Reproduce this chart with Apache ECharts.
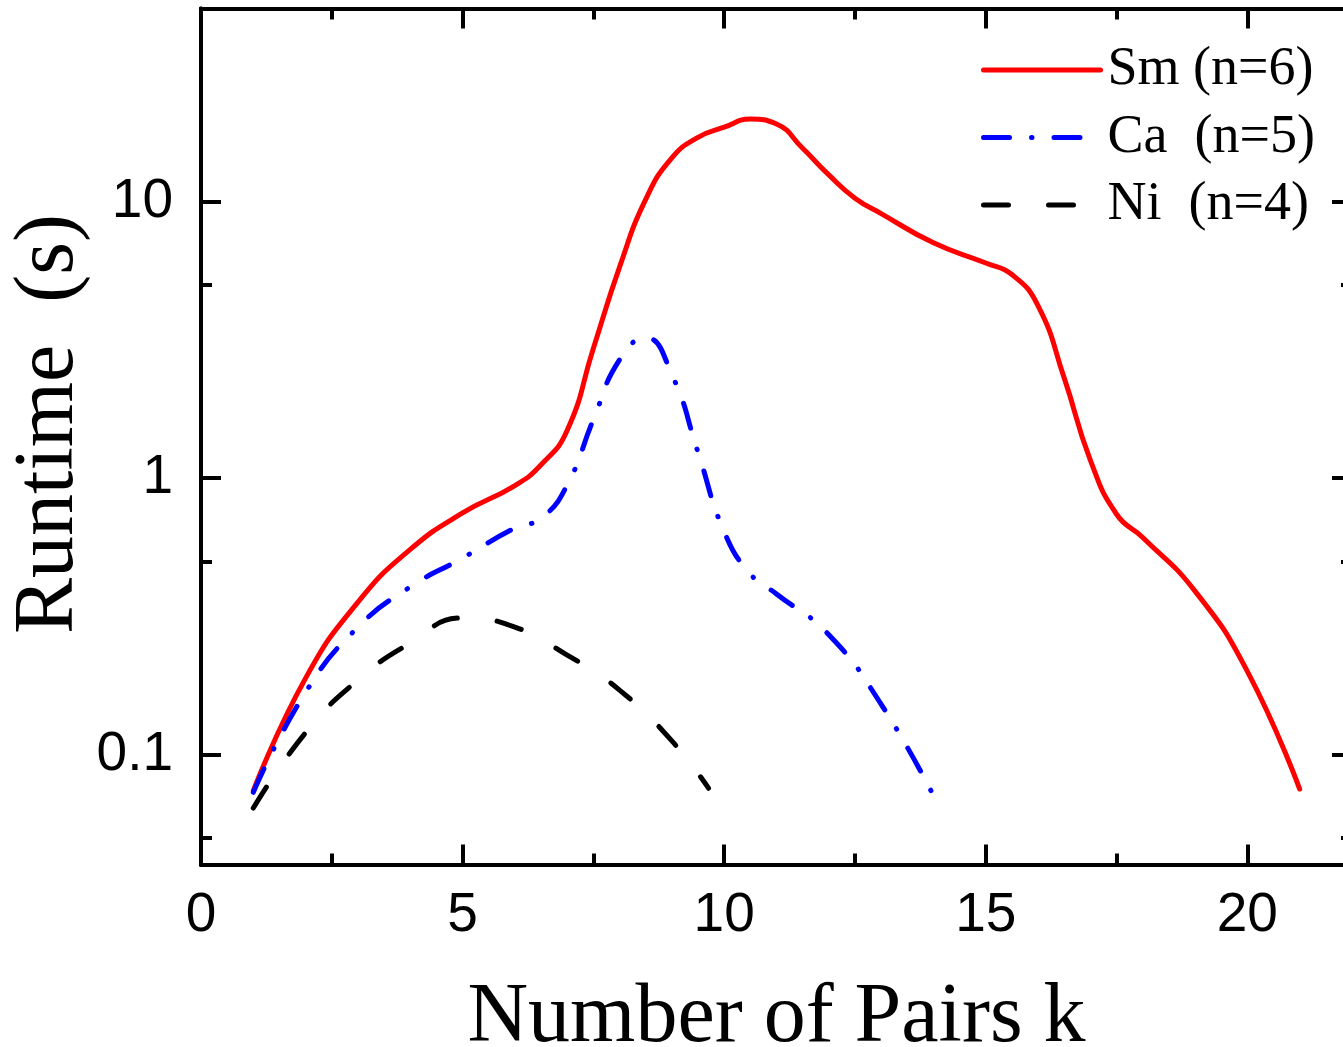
<!DOCTYPE html>
<html>
<head>
<meta charset="utf-8">
<script src="https://cdn.jsdelivr.net/npm/echarts@6/dist/echarts.min.js"></script>
<style>
  html, body { margin: 0; padding: 0; background: #fff; }
  #chart { width: 1343px; height: 1047px; }
</style>
</head>
<body>
<div id="chart"></div>
<script>
// data
var kSm = [1, 2, 3, 4, 5, 6, 6.5, 7, 7.5, 8, 8.5, 9, 9.5, 10, 10.5, 11, 11.5, 12, 12.5, 13, 14, 15, 15.5, 16, 16.5, 17, 17.5, 18, 19, 20, 21];
var runSm = [0.074, 0.189, 0.356, 0.552, 0.748, 0.94, 1.117, 1.49, 2.95, 5.8, 10.2, 14.4, 17.1, 18.6, 19.9, 19.1, 15.6, 12.5, 10.3, 9.06, 7.1, 6.0, 5.45, 4.2, 2.3, 1.16, 0.74, 0.61, 0.39, 0.2, 0.075];

var kCa = [1, 2, 3, 4, 5, 6, 6.5, 7, 7.5, 8, 8.5, 9, 9.5, 10, 10.5, 11, 12, 13, 14];
var runCa = [0.073, 0.168, 0.289, 0.404, 0.514, 0.66, 0.715, 0.945, 1.63, 2.68, 3.22, 2.37, 1.24, 0.64, 0.45, 0.381, 0.271, 0.152, 0.071];

var kNi = [1, 2, 3, 4, 5, 6, 7, 8, 9, 9.7];
var runNi = [0.064, 0.12, 0.186, 0.253, 0.312, 0.289, 0.229, 0.171, 0.112, 0.0755];

var xMajor = [0, 5, 10, 15, 20];
var xMinor = [2.5, 7.5, 12.5, 17.5];
var yMajor = [0.1, 1, 10];
var yMinor = [0.05, 0.5, 5];

var seriesNames = ['Sm (n=6)', 'Ca  (n=5)', 'Ni  (n=4)'];

function pairs(xs, ys) {
    return xs.map(function (x, i) { return [x, ys[i]]; });
}

var sansFont = 'Arial, "Liberation Sans", sans-serif';
var serifFont = '"Times New Roman", "Liberation Serif", serif';

function xAxisOf(pos, ticks, len, withLabels) {
    return {
        type: 'value',
        position: pos,
        min: 0,
        max: 22,
        axisLine: { show: true, onZero: false, lineStyle: { color: '#000', width: 4 } },
        axisTick: { show: true, inside: true, length: len, customValues: ticks, lineStyle: { color: '#000', width: 4 } },
        axisLabel: {
            show: withLabels,
            customValues: ticks,
            margin: 24,
            color: '#000',
            fontSize: 55,
            fontFamily: sansFont
        },
        splitLine: { show: false }
    };
}

function yAxisOf(pos, ticks, len, withLabels) {
    return {
        type: 'log',
        logBase: 10,
        position: pos,
        min: 0.04,
        max: 50,
        axisLine: { show: true, onZero: false, lineStyle: { color: '#000', width: 4 } },
        axisTick: { show: true, inside: true, length: len, customValues: ticks, lineStyle: { color: '#000', width: 4 } },
        axisLabel: {
            show: withLabels,
            customValues: ticks,
            margin: 28,
            color: '#000',
            fontSize: 55,
            fontFamily: sansFont,
            formatter: function (v) {
                return String(Math.round(v * 100) / 100);
            }
        },
        splitLine: { show: false }
    };
}

var xAxes = [
    xAxisOf('bottom', xMajor, 20, true),
    xAxisOf('bottom', xMinor, 11, false),
    xAxisOf('top', xMajor, 20, false),
    xAxisOf('top', xMinor, 11, false)
];
xAxes[0].name = 'Number of Pairs k';
xAxes[0].nameLocation = 'middle';
xAxes[0].nameGap = 112;
xAxes[0].nameTextStyle = { color: '#000', fontSize: 84, fontFamily: serifFont };

var yAxes = [
    yAxisOf('left', yMajor, 20, true),
    yAxisOf('left', yMinor, 11, false),
    yAxisOf('right', yMajor, 20, false),
    yAxisOf('right', yMinor, 11, false)
];

var chart = echarts.init(document.getElementById('chart'), null, { renderer: 'canvas' });

var lineSmooth = 0.5;

var option = {
    animation: false,
    backgroundColor: '#fff',
    grid: { left: 201, right: -9, top: 8.5, bottom: 182.5, containLabel: false, outerBoundsMode: 'none' },
    // y axis title, rotated
    graphic: [{
        type: 'text',
        x: 50,
        y: 424,
        rotation: Math.PI / 2,
        style: {
            text: 'Runtime  (s)',
            fill: '#000',
            fontSize: 84,
            fontFamily: serifFont,
            align: 'center',
            verticalAlign: 'middle'
        }
    }],
    legend: {
        orient: 'vertical',
        left: 976,
        top: 38,
        itemWidth: 117,
        itemHeight: 20,
        itemGap: 13.5,
        lineStyle: { width: 5 },
        itemStyle: { color: 'rgba(0,0,0,0)', borderWidth: 0, opacity: 0 },
        textStyle: { color: '#000', fontSize: 54, lineHeight: 54, fontFamily: serifFont, padding: [0, 0, 0, 2] },
        data: seriesNames
    },
    xAxis: xAxes,
    yAxis: yAxes,
    series: [{
        name: seriesNames[0],
        type: 'line',
        smooth: lineSmooth,
        symbol: 'none',
        data: pairs(kSm, runSm),
        lineStyle: { color: '#ff0000', width: 5, cap: 'round', join: 'round' },
        itemStyle: { color: '#ff0000' }
    }, {
        name: seriesNames[1],
        type: 'line',
        smooth: lineSmooth,
        symbol: 'none',
        data: pairs(kCa, runCa),
        lineStyle: { color: '#0000ff', width: 5, type: [26, 22, 0.5, 22], cap: 'round', join: 'round' },
        itemStyle: { color: '#0000ff' }
    }, {
        name: seriesNames[2],
        type: 'line',
        smooth: lineSmooth,
        symbol: 'none',
        data: pairs(kNi, runNi),
        lineStyle: { color: '#000000', width: 5, type: [25, 40], cap: 'round', join: 'round' },
        itemStyle: { color: '#000000' }
    }]
};

chart.setOption(option);
</script>
</body>
</html>
